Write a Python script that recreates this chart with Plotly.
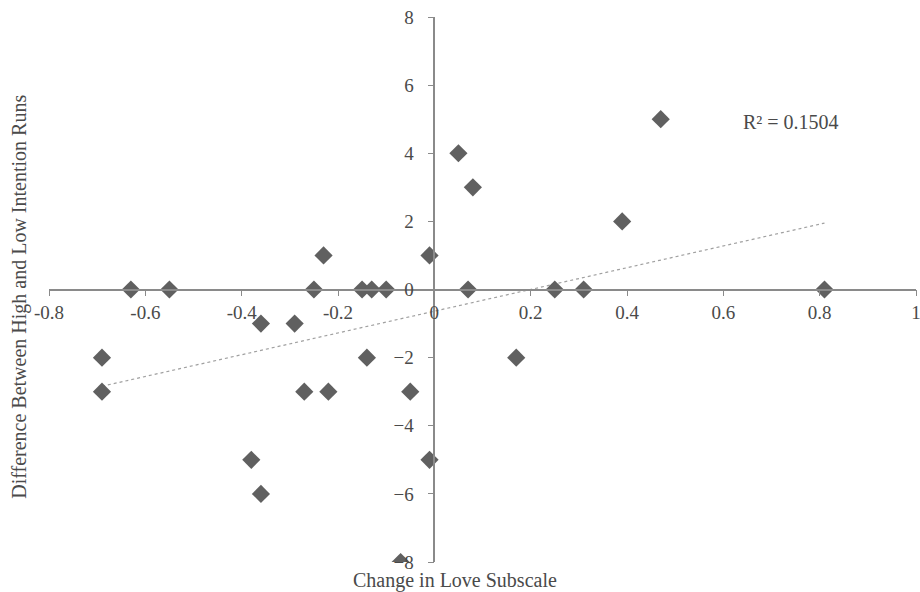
import numpy as np
import plotly.graph_objects as go

# Data
change_love = [-0.69, -0.69, -0.63, -0.55, -0.36, -0.29, -0.38, -0.36, -0.27, -0.22,
               -0.25, -0.23, -0.15, -0.13, -0.10, -0.14, -0.01, -0.05, -0.01, -0.07,
               0.05, 0.08, 0.07, 0.17, 0.25, 0.31, 0.39, 0.47, 0.81]
diff_runs = [-2, -3, 0, 0, -1, -1, -5, -6, -3, -3,
             0, 1, 0, 0, 0, -2, 1, -3, -5, -8,
             4, 3, 0, -2, 0, 0, 2, 5, 0]
x_ticks = [-0.8, -0.6, -0.4, -0.2, 0, 0.2, 0.4, 0.6, 0.8, 1]
x_tick_text = ["-0.8", "-0.6", "-0.4", "-0.2", "0", "0.2", "0.4", "0.6", "0.8", "1"]
y_ticks = [-8, -6, -4, -2, 0, 2, 4, 6, 8]
r2_label = "R² = 0.1504"

x = np.array(change_love)
y = np.array(diff_runs)
slope, intercept = np.polyfit(x, y, 1)
x_line = np.array([x.min(), x.max()])
y_line = slope * x_line + intercept

font_family = "Liberation Serif, Times New Roman, serif"
axis_color = "#8a8a8a"
text_color = "#4a4a4a"

fig = go.Figure()
fig.add_trace(go.Scatter(
    x=x_line, y=y_line, mode="lines",
    line=dict(color="#a0a0a0", width=1.2, dash="dot"),
    hoverinfo="skip", showlegend=False,
))
fig.add_trace(go.Scatter(
    x=change_love, y=diff_runs, mode="markers",
    marker=dict(symbol="diamond", size=14, color="#606060"),
    showlegend=False,
))

fig.update_layout(
    width=920, height=592,
    margin=dict(l=49, r=4, t=17, b=30, autoexpand=False),
    paper_bgcolor="white", plot_bgcolor="white",
    font=dict(family=font_family, color=text_color, size=19),
    xaxis=dict(
        range=[-0.8, 1.0], tickvals=x_ticks, ticktext=x_tick_text,
        anchor="free", position=0.5, automargin=False,
        ticklabeloverflow="allow",
        showline=True, linecolor=axis_color, linewidth=1.5,
        ticks="outside", ticklen=6, tickcolor=axis_color,
        showgrid=False, zeroline=False,
        tickfont=dict(family=font_family, size=19, color=text_color),
    ),
    yaxis=dict(
        range=[-8, 8], tickvals=y_ticks,
        anchor="free", position=0.8 / 1.8, automargin=False,
        ticklabeloverflow="allow",
        showline=True, linecolor=axis_color, linewidth=1.5,
        ticks="outside", ticklen=6, tickcolor=axis_color,
        ticklabelstandoff=10,
        showgrid=False, zeroline=False,
        tickfont=dict(family=font_family, size=19, color=text_color),
    ),
    annotations=[
        dict(text="Change in Love Subscale", xref="paper", yref="paper",
             x=0.468, y=-0.01, xanchor="center", yanchor="top", showarrow=False,
             font=dict(family=font_family, size=20, color=text_color)),
        dict(text="Difference Between High and Low Intention Runs", xref="paper", yref="paper",
             x=-0.035, y=0.486, xanchor="center", yanchor="middle", showarrow=False,
             textangle=-90,
             font=dict(family=font_family, size=20, color=text_color)),
        dict(text=r2_label, xref="paper", yref="paper",
             x=0.856, y=0.807, xanchor="center", yanchor="middle", showarrow=False,
             font=dict(family=font_family, size=20, color=text_color)),
    ],
)

fig.write_html(
    "out.html",
    config={"displayModeBar": False},
    post_script="document.body.style.margin='0';document.body.style.overflow='hidden';",
)
